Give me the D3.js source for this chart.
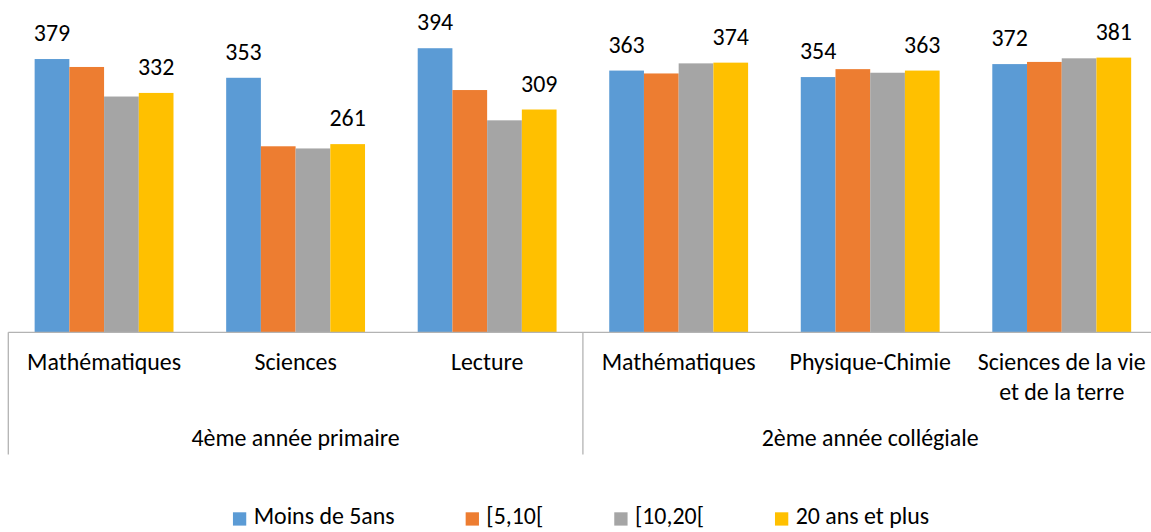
<!DOCTYPE html>
<html>
<head>
<meta charset="utf-8">
<script src="https://cdn.jsdelivr.net/npm/d3@7/dist/d3.min.js"></script>
<style>
  html, body { margin: 0; padding: 0; background: #fff; }
  svg { display: block; }
</style>
</head>
<body>
<svg id="chart" width="1151" height="532"></svg>
<script>
// ---------- data ----------
const categories = ["Mathématiques", "Sciences", "Lecture", "Mathématiques", "Physique-Chimie", "Sciences de la vie et de la terre"];
const groups = ["4ème année primaire", "2ème année collégiale"];
const groupOfCategory = [0, 0, 0, 1, 1, 1];
const seriesNames = ["Moins de 5ans", "[5,10[", "[10,20[", "20 ans et plus"];
const moinsDe5ans = [379, 353, 394, 363, 354, 372];
const de5a10 = [368, 258, 336, 359, 365, 375];
const de10a20 = [327, 255, 294, 373, 360, 380];
const plusDe20ans = [332, 261, 309, 374, 363, 381];
const labeledSeries = ["Moins de 5ans", "20 ans et plus"];
const yMax = 450;

// ---------- styles ----------
const colors = ["#5B9BD5", "#ED7D31", "#A5A5A5", "#FFC000"];
const fontFamily = "Carlito, Calibri, Lato, 'Open Sans', sans-serif";
const axisColor = "#b3b3b3";

const seriesValues = [moinsDe5ans, de5a10, de10a20, plusDe20ans];
const series = seriesNames.map((name, i) => ({ name, values: seriesValues[i], color: colors[i] }));

const svg = d3.select("#chart");

// calibrate font size so text widths match the reference (Calibri ~23.5px)
const probe = svg.append("text").attr("font-family", fontFamily).attr("font-size", 24).text("Mathématiques");
const probeW = probe.node().getComputedTextLength();
probe.remove();
const fs = 24 * 154 / probeW;

// ---------- scales ----------
const plotLeft = 8.3, plotRight = 1157.5;
const baseY = 332.3;
const x = d3.scaleBand().domain(d3.range(categories.length)).range([plotLeft, plotRight])
  .paddingInner(0.275).paddingOuter(0.1375);
const xs = d3.scaleBand().domain(seriesNames).range([0, x.bandwidth()]);
const y = d3.scaleLinear().domain([0, yMax]).range([baseY, baseY - yMax * 0.721]);

// ---------- bars ----------
const gSeries = svg.append("g").selectAll("g").data(series).join("g").attr("fill", d => d.color);
gSeries.selectAll("rect")
  .data(d => d.values.map((v, i) => ({ v, i, name: d.name })))
  .join("rect")
  .attr("x", d => x(d.i) + xs(d.name))
  .attr("width", xs.bandwidth())
  .attr("y", d => y(d.v))
  .attr("height", d => y(0) - y(d.v));

// data labels
const gLabels = svg.append("g").attr("font-family", fontFamily).attr("font-size", fs)
  .attr("fill", "#000").attr("text-anchor", "middle");
series.filter(s => labeledSeries.includes(s.name)).forEach(s => {
  gLabels.selectAll(null).data(s.values.map((v, i) => ({ v, i }))).join("text")
    .attr("x", d => x(d.i) + xs(s.name) + xs.bandwidth() / 2)
    .attr("y", d => y(d.v) - 17.8)
    .text(d => d.v);
});

// ---------- axis ----------
const gAxis = svg.append("g");
gAxis.append("line").attr("x1", plotLeft).attr("x2", plotRight).attr("y1", baseY).attr("y2", baseY)
  .attr("stroke", axisColor).attr("stroke-width", 1.3);
const step = x.step();
const groupBounds = groups.map((g, gi) => {
  const idx = d3.range(categories.length).filter(i => groupOfCategory[i] === gi);
  const x0 = x(idx[0]) - x.paddingOuter() * step + (x.paddingOuter() * step - x.paddingInner() * step / 2) * 0;
  return idx;
});
// category slot edges
const slotStart = i => plotLeft + i * step;
const separators = [0];
groupOfCategory.forEach((g, i) => { if (i > 0 && g !== groupOfCategory[i - 1]) separators.push(i); });
separators.push(categories.length);
gAxis.selectAll("line.sep").data(separators).join("line").attr("class", "sep")
  .attr("x1", d => slotStart(d)).attr("x2", d => slotStart(d))
  .attr("y1", baseY).attr("y2", 454.5)
  .attr("stroke", axisColor).attr("stroke-width", 1.3);

// category labels (wrapped to slot width)
const gCat = svg.append("g").attr("font-family", fontFamily).attr("font-size", fs)
  .attr("fill", "#000").attr("text-anchor", "middle");
categories.forEach((c, i) => {
  const t = gCat.append("text").attr("x", x(i) + x.bandwidth() / 2).attr("y", 370);
  const words = c.split(" ");
  let line = [], lineNo = 0;
  let ts = t.append("tspan").attr("x", x(i) + x.bandwidth() / 2).attr("dy", 0);
  words.forEach(w => {
    line.push(w);
    ts.text(line.join(" "));
    if (ts.node().getComputedTextLength() > step - 12 && line.length > 1) {
      line.pop();
      ts.text(line.join(" "));
      line = [w];
      lineNo++;
      ts = t.append("tspan").attr("x", x(i) + x.bandwidth() / 2).attr("dy", 30).text(w);
    }
  });
});

// group labels
svg.append("g").attr("font-family", fontFamily).attr("font-size", fs)
  .attr("fill", "#000").attr("text-anchor", "middle")
  .selectAll("text").data(groups).join("text")
  .attr("x", (g, gi) => (slotStart(separators[gi]) + slotStart(separators[gi + 1])) / 2)
  .attr("y", 446)
  .text(d => d);

// ---------- legend ----------
const legendCenter = 581, legendSq = 13.3, legendGap = 7.4, legendItemGap = 71;
const gLeg = svg.append("g").attr("font-family", fontFamily).attr("font-size", fs).attr("fill", "#000");
const items = series.map(s => {
  const g = gLeg.append("g");
  g.append("rect").attr("width", legendSq).attr("height", legendSq).attr("y", 512.3).attr("fill", s.color);
  const t = g.append("text").attr("x", legendSq + legendGap).attr("y", 524.3).text(s.name);
  return { g, w: legendSq + legendGap + t.node().getComputedTextLength() };
});
const totalW = d3.sum(items, d => d.w) + legendItemGap * (items.length - 1);
let lx = legendCenter - totalW / 2;
items.forEach(it => { it.g.attr("transform", `translate(${lx},0)`); lx += it.w + legendItemGap; });
</script>
</body>
</html>
